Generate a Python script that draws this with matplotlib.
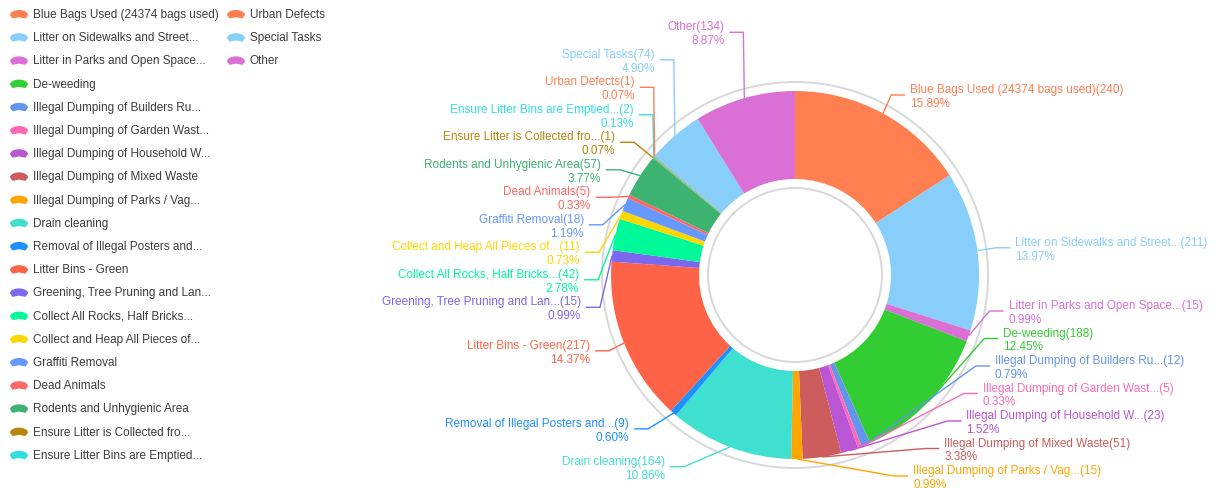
import numpy as np
import matplotlib.pyplot as plt
from matplotlib.patches import Polygon, Circle

plt.rcParams['font.family'] = ['Liberation Sans', 'DejaVu Sans']

# data (clockwise from 12 o'clock)
names = [
    'Blue Bags Used (24374 bags used)', 'Litter on Sidewalks and Street...',
    'Litter in Parks and Open Space...', 'De-weeding',
    'Illegal Dumping of Builders Ru...', 'Illegal Dumping of Garden Wast...',
    'Illegal Dumping of Household W...', 'Illegal Dumping of Mixed Waste',
    'Illegal Dumping of Parks / Vag...', 'Drain cleaning',
    'Removal of Illegal Posters and...', 'Litter Bins - Green',
    'Greening, Tree Pruning and Lan...', 'Collect All Rocks, Half Bricks...',
    'Collect and Heap All Pieces of...', 'Graffiti Removal', 'Dead Animals',
    'Rodents and Unhygienic Area', 'Ensure Litter is Collected fro...',
    'Ensure Litter Bins are Emptied...', 'Urban Defects', 'Special Tasks', 'Other',
]
values = [240, 211, 15, 188, 12, 5, 23, 51, 15, 164, 9, 217, 15, 42, 11, 18, 5, 57,
          1, 2, 1, 74, 134]
colors = ['#ff7f50', '#87cefa', '#da70d6', '#32cd32', '#6495ed', '#ff69b4', '#ba55d3',
          '#cd5c5c', '#ffa500', '#40e0d0', '#1e90ff', '#ff6347', '#7b68ee', '#00fa9a',
          '#ffd700', '#6699ff', '#ff6666', '#3cb371', '#b8860b', '#30e0e0',
          '#ff7f50', '#87cefa', '#da70d6']

W, H = 1218, 489
CX, CY, R_OUT, R_IN = 795, 276, 184, 96
FS = 8.5  # ~12px

fig = plt.figure(figsize=(W / 100, H / 100), dpi=100)
ax = fig.add_axes([0, 0, 1, 1])

# y axis inverted below, so counterclock in data = clockwise on screen
ax.pie(values, colors=colors, radius=R_OUT, center=(CX, CY), startangle=-90,
       counterclock=True, frame=True,
       wedgeprops=dict(width=R_OUT - R_IN, linewidth=0))
ax.add_patch(Circle((CX, CY), 193, fill=False, ec='#d8d8d8', lw=1.4))
ax.add_patch(Circle((CX, CY), 87, fill=False, ec='#d8d8d8', lw=1.4))

# ---- labels: ideal spot along mid angle, then pushed apart per side
total = float(sum(values))
cum = np.cumsum([0] + values[:-1])
mid = np.radians(360 * (cum + np.array(values) / 2) / total)
sx = CX + R_OUT * np.sin(mid)
sy = CY - R_OUT * np.cos(mid)
RE, GAP = 205, 27.5
ideal = CY - RE * np.cos(mid)


def spread(ys, gap, ymin, ymax):
    # pool adjacent violators on ys - gap*i
    z = [y - gap * i for i, y in enumerate(ys)]
    blocks = []
    for v in z:
        blocks.append([v, 1])
        while len(blocks) > 1 and blocks[-2][0] / blocks[-2][1] > blocks[-1][0] / blocks[-1][1]:
            s, n = blocks.pop()
            blocks[-1][0] += s
            blocks[-1][1] += n
    fit = []
    for s, n in blocks:
        fit += [s / n] * n
    out = [f + gap * i for i, f in enumerate(fit)]
    if out[-1] > ymax:
        out[-1] = ymax
        for i in range(len(out) - 2, -1, -1):
            out[i] = min(out[i], out[i + 1] - gap)
    if out[0] < ymin:
        out[0] = ymin
        for i in range(1, len(out)):
            out[i] = max(out[i], out[i - 1] + gap)
    return out


label_y = np.zeros(len(values))
for right in (True, False):
    idx = [i for i in range(len(values)) if (np.degrees(mid[i]) < 180) == right]
    idx.sort(key=lambda i: ideal[i])
    ys = spread([ideal[i] for i in idx], GAP, 20, 477)
    for i, y in zip(idx, ys):
        label_y[i] = y

for i, (name, v, c) in enumerate(zip(names, values, colors)):
    right = np.degrees(mid[i]) < 180
    d = 1 if right else -1
    y = label_y[i]
    dy = y - CY
    if abs(y - ideal[i]) < 0.5 and y < CY:
        tx = CX + RE * np.sin(mid[i]) + d * 17
    else:
        dx = 216 * np.sqrt(max(0.0, 1 - (dy / 240) ** 2))
        dx = max(dx, abs(sx[i] - CX) + 20)
        tx = CX + d * dx
    ex = tx - d * 19
    ax.plot([sx[i], ex, tx - d * 5], [sy[i], y, y], color=c, lw=1, solid_capstyle='butt')
    ax.text(tx, y + 1, f'{name}({v})\n{100 * v / total:.2f}%', ha='left' if right else 'right',
            va='center', color=c, fontsize=FS, linespacing=1.22)

# ---- legend (vertical, wraps after 20 rows)
ROWS, ROW_H = 20, 23.2


def legend_icon(x0, y0, color):
    t = np.linspace(np.pi, 0, 20)
    top = np.column_stack([x0 + 9 * np.cos(t), y0 + 1 - 5 * np.sin(t)])
    bottom = np.array([[x0 + 9, y0 + 1], [x0 + 6.5, y0 + 4.5], [x0, y0 + 3.2],
                       [x0 - 6.5, y0 + 4.5], [x0 - 9, y0 + 1]])
    ax.add_patch(Polygon(np.vstack([top, bottom]), closed=True, fc=color, ec='none'))


for i, (name, c) in enumerate(zip(names, colors)):
    col, row = divmod(i, ROWS)
    x0 = 19 + col * 217
    y0 = 15 + row * ROW_H
    legend_icon(x0, y0, c)
    ax.text(x0 + 14, y0, name, ha='left', va='center', color='#3c3c3c', fontsize=FS)

ax.set_xlim(0, W)
ax.set_ylim(H, 0)
ax.set_aspect('auto')
ax.axis('off')

fig.savefig('out.png', dpi=100, facecolor='white')
